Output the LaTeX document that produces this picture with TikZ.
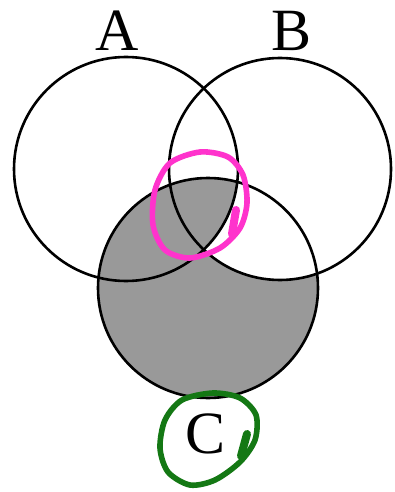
\documentclass[tikz,border=0pt]{standalone}
\usepackage{fontspec}
\setmainfont{Liberation Serif}
\usetikzlibrary{positioning}

\begin{document}
\begin{tikzpicture}[
  x=0.5pt,y=-0.5pt,
  setline/.style={draw,line width=1.3pt},
  region/.style={fill=black!40},
  lbl/.style={font=\fontsize{30}{30}\selectfont,inner sep=0pt},
  ink/.style={line width=2.8pt,line cap=round,line join=round}
]
\useasboundingbox (0,0) rectangle (395,492);
\coordinate (ca) at (126,169);
\coordinate (cb) at (280,169);
\coordinate (cc) at (208,288);

% shaded part of C
\begin{scope}
  \clip (cc) circle[radius=110];
  \fill[region] (cc) circle[radius=110];
  \clip (cb) circle[radius=111];
  \fill[white] (cb) circle[radius=111];
  \clip (ca) circle[radius=112];
  \fill[region] (ca) circle[radius=112];
\end{scope}

\draw[setline] (ca) circle[radius=112];
\draw[setline] (cb) circle[radius=111];
\draw[setline] (cc) circle[radius=110];

\node[lbl] (la) at (117,31) {A};
\node[lbl] (lb) at (292,31) {B};
\node[lbl] (lc) at (206,434) {C};

% hand-drawn marks
\draw[ink,color={rgb,255:red,255;green,51;blue,204}] plot[smooth cycle] coordinates
  {(200,152) (228,157) (243,175) (247,203) (240,228) (220,248) (190,258)
   (165,250) (153,225) (155,190) (170,163)};
\draw[ink,line width=4pt,color={rgb,255:red,255;green,51;blue,204}] (236,210) -- (232,234);
\draw[ink,color={rgb,255:red,20;green,120;blue,20}] plot[smooth cycle] coordinates
  {(213,393) (240,398) (256,415) (255,440) (240,462) (215,480) (190,485)
   (168,472) (160,448) (165,420) (182,400)};
\draw[ink,line width=4pt,color={rgb,255:red,20;green,120;blue,20}] (247,434) -- (241,456);
\end{tikzpicture}
\end{document}
